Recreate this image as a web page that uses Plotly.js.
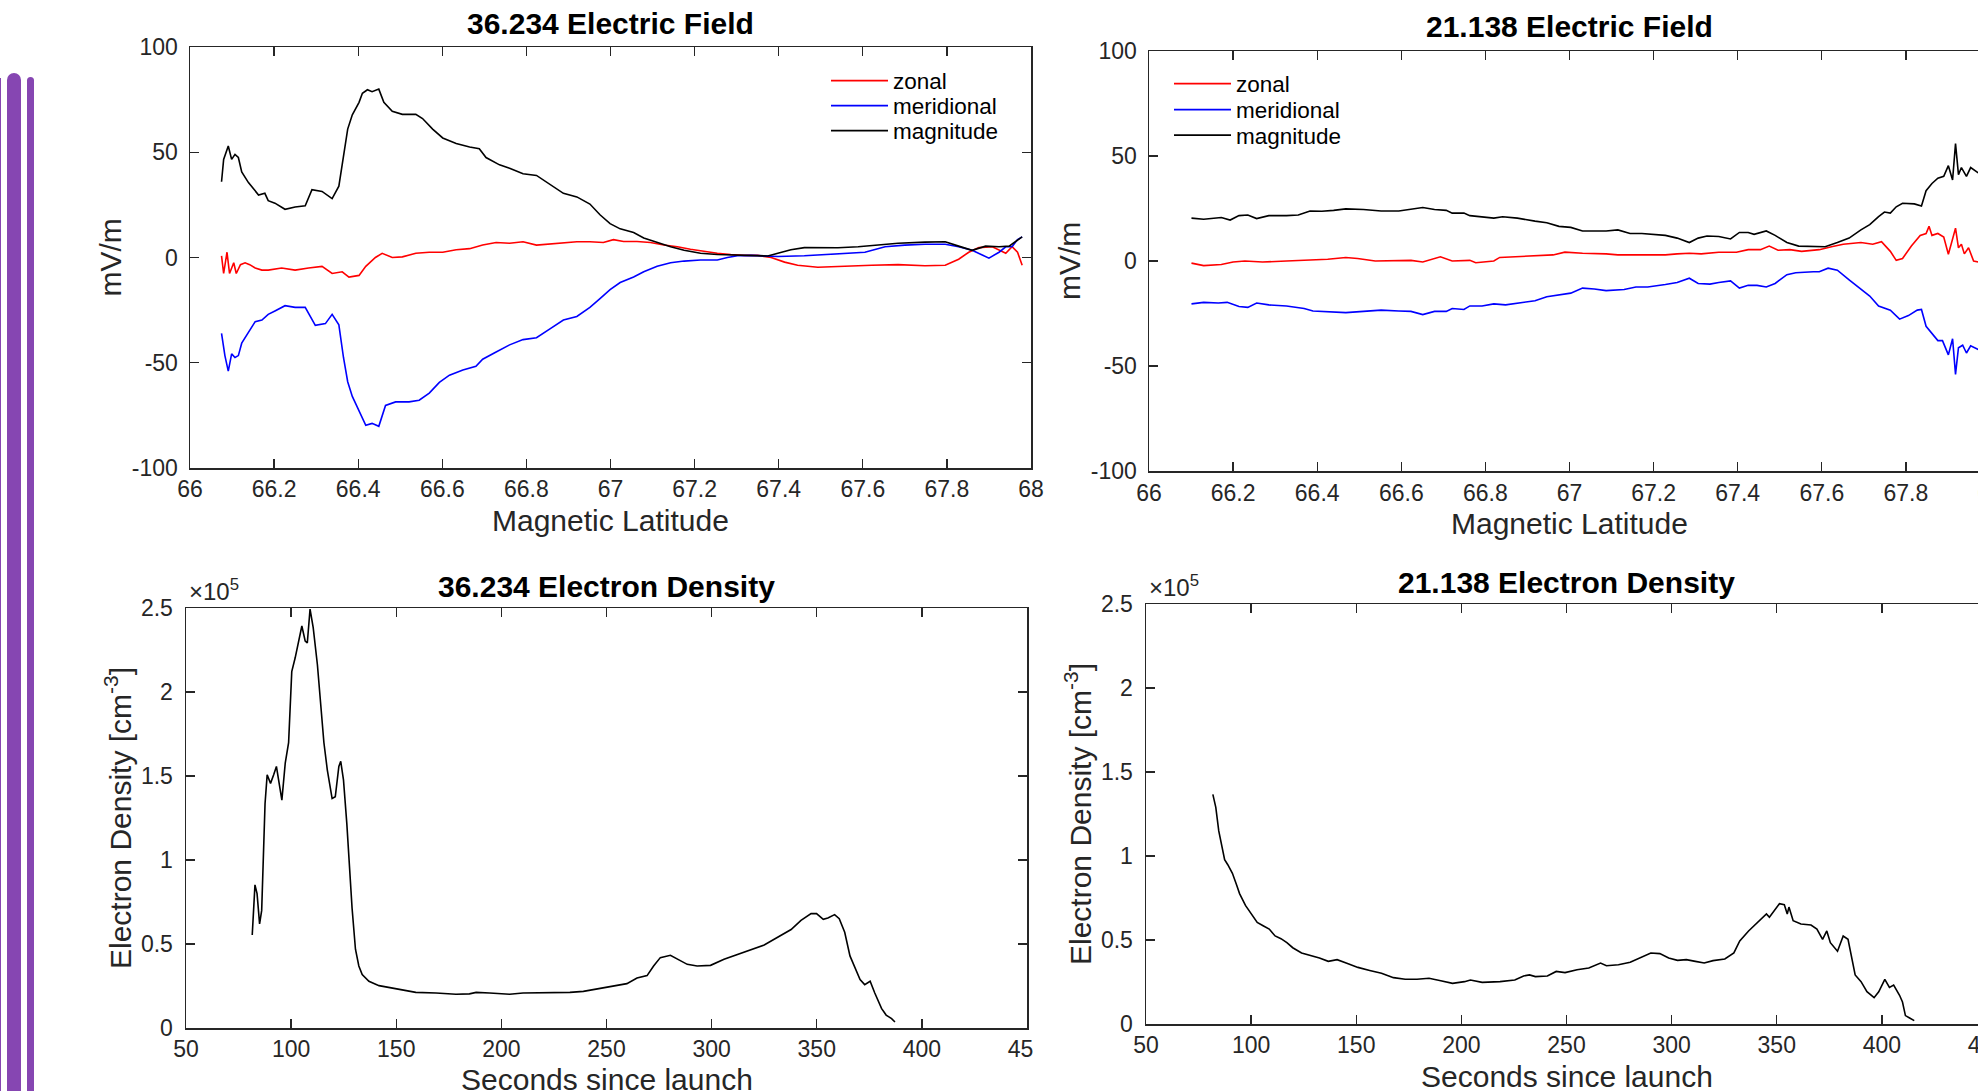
<!DOCTYPE html>
<html><head><meta charset="utf-8">
<script src="https://cdn.plot.ly/plotly-3.0.1.min.js"></script>
<style>
html,body{margin:0;padding:0;background:#fff;overflow:hidden;width:1978px;height:1091px;}
#plot{position:absolute;left:0;top:0;width:2010px;height:1091px;}
.bar{position:absolute;background:#8646b2;bottom:0;}
#cut{position:absolute;left:1033px;top:1031px;width:70px;height:40px;background:#fff;}
</style></head><body>
<div id="plot"></div>
<div class="bar" style="left:7px;width:14px;top:73px;border-radius:7px 7px 0 0;"></div>
<div class="bar" style="left:27px;width:7px;top:77px;border-radius:4px 4px 0 0;"></div>
<div class="bar" style="left:0px;width:1px;top:78px;"></div>
<div id="cut"></div>
<script>
// ---------- tick labels ----------
const latTicks = [66,66.2,66.4,66.6,66.8,67,67.2,67.4,67.6,67.8,68];
const latTickText = ['66','66.2','66.4','66.6','66.8','67','67.2','67.4','67.6','67.8','68'];
const efTicks = [-100,-50,0,50,100];
const efTickText = ['-100','-50','0','50','100'];
const timeTicks = [50,100,150,200,250,300,350,400,450];
const timeTickText = ['50','100','150','200','250','300','350','400','450'];
const densTicks = [0,0.5,1,1.5,2,2.5];
const densTickText = ['0','0.5','1','1.5','2','2.5'];
const seriesNames = ['zonal','meridional','magnitude'];

// ---------- 36.234 Electric Field (mV/m vs magnetic latitude) ----------
const ef36ZonalLat = [66.075,66.080,66.088,66.094,66.104,66.110,66.120,66.131,66.142,66.155,66.171,66.186,66.218,66.250,66.282,66.314,66.338,66.362,66.378,66.402,66.418,66.441,66.457,66.481,66.505,66.537,66.569,66.601,66.633,66.665,66.696,66.728,66.760,66.792,66.824,66.856,66.888,66.920,66.951,66.983,67.007,67.031,67.063,67.095,67.127,67.159,67.190,67.222,67.254,67.286,67.318,67.350,67.382,67.414,67.445,67.493,67.557,67.621,67.684,67.748,67.796,67.828,67.852,67.876,67.908,67.940,67.955,67.968,67.979];
const ef36Zonal = [0.8,-7.6,2.5,-7.6,-2.5,-7.6,-3.4,-2.5,-3.4,-5,-6,-6,-5,-6,-5,-4.2,-7.6,-6.8,-9.3,-8.5,-4.2,0,2,0,0.3,2,2.5,2.5,3.7,4.2,5.9,7.1,6.8,7.5,5.9,6.4,6.8,7.5,7.5,7.1,8.5,7.6,7.6,7.1,5.9,5.1,3.9,2.9,2,1.4,1,1,0,-2.2,-3.7,-4.6,-4,-3.7,-3.4,-3.9,-3.7,-0.8,2.5,4.7,5.1,2,5.1,2.5,-3.7];

const ef36MeridLat = [66.075,66.083,66.091,66.099,66.107,66.115,66.123,66.139,66.155,66.171,66.186,66.202,66.226,66.250,66.274,66.298,66.322,66.338,66.354,66.365,66.375,66.386,66.402,66.418,66.433,66.449,66.465,66.489,66.521,66.545,66.569,66.593,66.617,66.649,66.680,66.696,66.728,66.760,66.792,66.824,66.856,66.888,66.920,66.951,66.975,66.999,67.023,67.055,67.079,67.111,67.143,67.175,67.214,67.254,67.278,67.302,67.334,67.374,67.398,67.461,67.509,67.557,67.605,67.653,67.700,67.748,67.796,67.828,67.860,67.884,67.900,67.924,67.940,67.955,67.968,67.979];
const ef36Merid = [-36,-46.6,-54,-45.8,-47.5,-46.6,-40.7,-35.6,-30.5,-29.7,-27,-25.4,-22.9,-23.7,-23.7,-32.2,-31.4,-27,-32,-47.5,-59,-66,-72.9,-79.7,-78.8,-80.2,-70.3,-68.6,-68.6,-67.8,-64.4,-59.3,-55.9,-53.4,-51.7,-48.3,-44.9,-41.5,-39,-38.1,-33.9,-29.7,-28,-23.7,-19.5,-15.3,-11.9,-9.3,-6.8,-4.2,-2.5,-1.7,-1.2,-1.2,0,0.8,1,0.7,0.5,0.8,1.4,2,2.5,5.1,5.9,6.3,6.3,5.1,3.4,1.2,-0.3,2.5,5.1,5.1,8.5,9.8];

const ef36MagLat = [66.075,66.080,66.091,66.099,66.107,66.115,66.123,66.139,66.163,66.178,66.186,66.202,66.226,66.250,66.274,66.290,66.314,66.338,66.354,66.365,66.375,66.386,66.402,66.410,66.422,66.433,66.449,66.461,66.481,66.505,66.537,66.553,66.577,66.601,66.633,66.665,66.688,66.704,66.736,66.760,66.792,66.824,66.856,66.888,66.920,66.951,66.975,66.999,67.023,67.055,67.079,67.111,67.143,67.175,67.214,67.254,67.286,67.334,67.374,67.398,67.429,67.461,67.493,67.541,67.589,67.637,67.684,67.748,67.796,67.828,67.860,67.892,67.924,67.948,67.963,67.979];
const ef36Mag = [36,46.6,53,46.6,49,47.5,40.7,35.6,29.7,30.5,27,25.8,22.9,24,24.6,32.2,31.4,28,33.9,49,61,67.8,73.7,78,79.7,78.8,80,73.7,69.5,68,68,66,61,56.8,54.2,52.5,51.7,47.5,44,42.4,39.8,39,34.7,30.5,28.8,25.4,20.3,16.1,13.6,11.9,9.3,7.1,5.1,3.4,2,1.4,1.2,1.2,0.7,2,3.7,4.7,4.7,4.6,5.1,5.9,6.8,7.3,7.5,5.4,3.4,5.4,5.1,5.4,7.6,9.8];

// ---------- 21.138 Electric Field ----------
const ef21ZonalLat = [66.101,66.130,66.172,66.200,66.228,66.270,66.327,66.383,66.425,66.468,66.496,66.538,66.580,66.623,66.651,66.693,66.721,66.763,66.777,66.820,66.834,66.876,66.918,66.961,66.989,67.031,67.087,67.115,67.172,67.228,67.256,67.285,67.313,67.355,67.397,67.425,67.454,67.475,67.496,67.524,67.552,67.594,67.623,67.651,67.693,67.721,67.742,67.763,67.777,67.792,67.813,67.834,67.848,67.855,67.862,67.876,67.890,67.901,67.911,67.918,67.925,67.932,67.939,67.949,67.961,67.972];
const ef21Zonal = [-1,-2.2,-1.7,-0.5,0,-0.5,0,0.3,0.8,1.7,1.2,0,0.3,0.3,-0.5,2,0,0.3,-0.8,0,1.7,2,2.4,2.9,4.2,3.7,3.4,2.9,2.9,2.9,3.4,3.7,3.4,4.2,4.2,5.4,5.4,7.1,5.1,5.4,4.6,5.4,6.8,8,8.8,8,9.2,4.6,0.3,1.2,7.1,12.2,13.1,16.5,12.2,13.1,11.4,3.2,10.5,15.6,6.3,8,3.4,6.3,0,-0.5];

const ef21MeridLat = [66.101,66.130,66.165,66.186,66.214,66.235,66.256,66.285,66.327,66.369,66.390,66.425,66.468,66.510,66.552,66.594,66.623,66.651,66.679,66.707,66.721,66.749,66.763,66.792,66.820,66.848,66.876,66.918,66.946,66.975,67.003,67.031,67.059,67.087,67.130,67.158,67.186,67.228,67.256,67.285,67.306,67.334,67.355,67.383,67.404,67.425,67.446,67.468,67.489,67.517,67.538,67.580,67.594,67.615,67.637,67.665,67.693,67.714,67.735,67.763,67.785,67.806,67.827,67.837,67.848,67.862,67.876,67.887,67.901,67.911,67.918,67.925,67.935,67.944,67.954,67.972];
const ef21Merid = [-20.4,-19.7,-20,-19.7,-21.7,-22.1,-20,-20.9,-21.4,-22.6,-23.8,-24,-24.6,-24,-23.4,-23.8,-24,-25.5,-24,-24,-22.6,-23.1,-21.4,-21.4,-20.4,-20.9,-20,-18.9,-17,-16.1,-15.3,-12.9,-13.3,-14.1,-13.6,-12.4,-12.4,-11.2,-10.2,-8.2,-10.7,-11,-10.2,-9.5,-12.9,-11.6,-11.6,-12.4,-10.7,-6.5,-5.6,-5.1,-5.1,-3.4,-4.4,-9,-13.3,-16.7,-21.4,-23.4,-27.7,-26,-23.4,-23.1,-31.1,-34.5,-37.9,-37.9,-44.7,-37,-54,-41.3,-40.1,-43.8,-40.4,-42.1];

const ef21MagLat = [66.101,66.130,66.172,66.193,66.214,66.235,66.256,66.285,66.327,66.355,66.383,66.411,66.439,66.468,66.510,66.552,66.594,66.623,66.651,66.679,66.707,66.721,66.749,66.763,66.792,66.820,66.841,66.876,66.918,66.946,66.975,67.003,67.031,67.059,67.087,67.115,67.144,67.172,67.200,67.228,67.256,67.285,67.306,67.327,67.355,67.383,67.404,67.425,67.439,67.468,67.489,67.517,67.545,67.580,67.608,67.637,67.665,67.693,67.714,67.735,67.749,67.763,67.777,67.792,67.820,67.837,67.848,67.862,67.876,67.890,67.901,67.911,67.918,67.925,67.932,67.944,67.954,67.972];
const ef21Mag = [20.4,19.9,20.7,19.5,21.6,21.9,20.2,21.6,21.6,21.9,23.8,23.7,24.1,24.8,24.5,23.8,23.8,24.5,25.5,24.5,24.1,22.8,22.8,21.6,21.1,20.4,21.1,20.4,19,18.2,16.5,16,14.3,14.3,14.3,14.8,13.1,13.1,12.6,12.2,10.9,8.8,10.9,11.9,11.7,10.5,13.6,13.6,12.7,14.3,12.2,8.8,7.1,7.1,6.8,8.8,10.9,14.8,17.3,21.1,23.3,22.8,25.8,27.5,27.2,26.2,33.5,36.9,39.4,40.3,45.4,38.6,55.9,41.1,44.5,40.3,44.5,42];

// ---------- Electron density (units of 1e5 cm^-3) vs seconds since launch ----------
const ne36Time = [81.5,82.8,83.8,85,86,87.6,88.6,90.2,91.7,93,95.6,97.2,98.8,100.3,101.9,103.5,105.1,106.7,107.7,109,110.5,112.5,114,115.6,117.2,119.5,121,122.7,123.6,124.9,126.5,127.4,129,130.6,132.2,133.8,137,141.8,146.6,152.9,159.3,168.9,178.4,184.8,188,194.4,203.9,210.3,223,232.6,239,245.3,251.7,259.7,264.5,269.3,272.4,275.6,280.4,283.6,288.4,293.1,299.5,305.9,312.3,318.6,325,331.4,337.8,342.5,347.3,349.9,353.1,355.3,358.5,360.7,363.3,365.8,368,370.6,372.8,375.4,377.6,380.8,383,385.6,387.2];
const ne36 = [0.554,0.852,0.80,0.62,0.70,1.336,1.507,1.456,1.507,1.557,1.356,1.577,1.698,2.121,2.202,2.303,2.393,2.303,2.292,2.494,2.383,2.162,1.94,1.698,1.537,1.366,1.376,1.557,1.587,1.477,1.215,1.013,0.711,0.469,0.369,0.318,0.278,0.252,0.242,0.228,0.212,0.208,0.201,0.203,0.212,0.208,0.201,0.208,0.208,0.212,0.218,0.232,0.244,0.264,0.298,0.312,0.369,0.419,0.433,0.413,0.379,0.369,0.373,0.409,0.439,0.465,0.494,0.54,0.586,0.641,0.681,0.681,0.647,0.655,0.675,0.651,0.57,0.429,0.369,0.288,0.258,0.278,0.208,0.117,0.077,0.056,0.036];

const ne21Time = [81.8,83.2,84.6,86,87.4,88.9,91.1,93.1,94.5,97.3,100.1,102.9,105.7,108.6,111.4,114.2,117,119.8,124,128.3,132.5,136.7,140.9,145.2,150.8,156.4,162,167.7,173.3,178.9,184.6,190.2,195.8,201.5,204.3,209.9,218.4,225.4,229.6,232.4,235.2,240.9,245.1,249.3,255,260.6,264.8,266.2,269,274.7,280.3,285.9,290.1,294.4,298.6,302.8,307,311.3,315.5,319.7,325.3,329.6,332.4,336.6,340.8,345.1,346.5,349.4,351.3,353.6,355,355.8,357.8,361.5,366.3,369.1,371.8,373.8,375.5,378.9,381.6,383.9,387.3,390.1,392.9,396.3,398.5,401.4,403.6,405.6,408.4,409.8,411.2,413.2,415.4];
const ne21 = [1.367,1.29,1.149,1.069,0.978,0.948,0.897,0.827,0.776,0.706,0.655,0.605,0.585,0.565,0.524,0.508,0.484,0.454,0.423,0.409,0.393,0.373,0.383,0.363,0.337,0.319,0.302,0.276,0.266,0.266,0.272,0.258,0.242,0.252,0.262,0.248,0.252,0.262,0.286,0.292,0.282,0.286,0.313,0.306,0.323,0.333,0.353,0.363,0.347,0.353,0.367,0.399,0.423,0.419,0.393,0.379,0.383,0.373,0.363,0.377,0.387,0.423,0.494,0.554,0.605,0.655,0.635,0.685,0.716,0.71,0.655,0.696,0.615,0.595,0.589,0.565,0.504,0.554,0.484,0.433,0.524,0.504,0.292,0.252,0.192,0.157,0.192,0.266,0.218,0.232,0.171,0.131,0.05,0.036,0.02];

// ---------- layout helpers ----------
const W = 2010, H = 1091;
const F = '"Liberation Sans", Arial, Helvetica, sans-serif';
const INK = '#262626';
const px = v => v / W;
const py = v => 1 - v / H;

function axisStyle(extra) {
  return Object.assign({
    showline: true, linecolor: INK, linewidth: 1.5, mirror: 'ticks',
    ticks: 'inside', ticklen: 9, tickwidth: 1.3, tickcolor: INK,
    showgrid: false, zeroline: false, fixedrange: true,
    tickfont: {family: F, size: 23, color: INK}
  }, extra);
}

const colors = ['#ff0000', '#0000ff', '#000000'];
const traces = [];
function efTraces(lats, vals, xa, ya, legends) {
  for (let i = 0; i < 3; i++) {
    traces.push({type: 'scatter', mode: 'lines', x: lats[i], y: vals[i], xaxis: xa, yaxis: ya,
      name: seriesNames[i], legend: legends[i], line: {color: colors[i], width: 1.6}});
  }
}
efTraces([ef36ZonalLat, ef36MeridLat, ef36MagLat], [ef36Zonal, ef36Merid, ef36Mag], 'x', 'y', ['legend', 'legend2', 'legend3']);
efTraces([ef21ZonalLat, ef21MeridLat, ef21MagLat], [ef21Zonal, ef21Merid, ef21Mag], 'x2', 'y2', ['legend4', 'legend5', 'legend6']);
traces.push({type: 'scatter', mode: 'lines', x: ne36Time, y: ne36, xaxis: 'x3', yaxis: 'y3', showlegend: false, line: {color: '#000', width: 1.6}});
traces.push({type: 'scatter', mode: 'lines', x: ne21Time, y: ne21, xaxis: 'x4', yaxis: 'y4', showlegend: false, line: {color: '#000', width: 1.6}});

// subplot boxes in page pixels: [left, top, right, bottom]
const boxes = [[190, 47, 1031, 468], [1149, 51, 1990, 471], [186, 608, 1027, 1028], [1146, 604, 1987, 1024]];
const dom = b => ({x: [px(b[0]), px(b[2])], y: [py(b[3]), py(b[1])]});

function legendAt(xpx, ypx) {
  return {x: px(xpx), y: py(ypx), xanchor: 'left', yanchor: 'middle', bgcolor: 'rgba(0,0,0,0)',
    borderwidth: 0, itemwidth: 57, font: {family: F, size: 22.5, color: '#000'}, itemclick: false, itemdoubleclick: false};
}

const titleFont = {family: F, size: 30, color: '#000', weight: 'bold'};
const labFont = {family: F, size: 30, color: INK};
function ann(text, x, y, font, extra) {
  return Object.assign({text: text, x: px(x), y: py(y), xref: 'paper', yref: 'paper', showarrow: false,
    xanchor: 'center', yanchor: 'middle', font: font}, extra || {});
}

const d = boxes.map(dom);
const layout = {
  width: W, height: H, margin: {l: 0, r: 0, t: 0, b: 0},
  paper_bgcolor: '#fff', plot_bgcolor: '#fff', showlegend: true,
  xaxis: axisStyle({domain: d[0].x, anchor: 'y', range: [66, 68], tickvals: latTicks, ticktext: latTickText, ticklabelstandoff: 0}),
  yaxis: axisStyle({domain: d[0].y, anchor: 'x', range: [-100, 100], tickvals: efTicks, ticktext: efTickText, ticklabelstandoff: 6}),
  xaxis2: axisStyle({domain: d[1].x, anchor: 'y2', range: [66, 68], tickvals: latTicks, ticktext: latTickText, ticklabelstandoff: 1}),
  yaxis2: axisStyle({domain: d[1].y, anchor: 'x2', range: [-100, 100], tickvals: efTicks, ticktext: efTickText, ticklabelstandoff: 6}),
  xaxis3: axisStyle({domain: d[2].x, anchor: 'y3', range: [50, 450], tickvals: timeTicks, ticktext: timeTickText, ticklabelstandoff: 0}),
  yaxis3: axisStyle({domain: d[2].y, anchor: 'x3', range: [0, 2.5], tickvals: densTicks, ticktext: densTickText, ticklabelstandoff: 7}),
  xaxis4: axisStyle({domain: d[3].x, anchor: 'y4', range: [50, 450], tickvals: timeTicks, ticktext: timeTickText, ticklabelstandoff: 0}),
  yaxis4: axisStyle({domain: d[3].y, anchor: 'x4', range: [0, 2.5], tickvals: densTicks, ticktext: densTickText, ticklabelstandoff: 7}),
  legend: legendAt(826, 81), legend2: legendAt(826, 106), legend3: legendAt(826, 131),
  legend4: legendAt(1169, 84), legend5: legendAt(1169, 110), legend6: legendAt(1169, 135.5),
  annotations: [
    ann('36.234 Electric Field', 610.5, 24, titleFont),
    ann('21.138 Electric Field', 1569.5, 27, titleFont),
    ann('36.234 Electron Density', 606.5, 586, titleFont),
    ann('21.138 Electron Density', 1566.5, 582, titleFont),
    ann('Magnetic Latitude', 610.5, 520, labFont),
    ann('Magnetic Latitude', 1569.5, 523, labFont),
    ann('Seconds since launch', 606.5, 1079, labFont),
    ann('Seconds since launch', 1566.5, 1076, labFont),
    ann('mV/m', 110, 257.5, labFont, {textangle: -90}),
    ann('mV/m', 1069, 261, labFont, {textangle: -90}),
    ann('Electron Density [cm<sup>-3</sup>]', 118, 818, labFont, {textangle: -90}),
    ann('Electron Density [cm<sup>-3</sup>]', 1078, 814, labFont, {textangle: -90}),
    ann('\u00d710<sup>5</sup>', 187, 607, {family: F, size: 24, color: INK}, {xanchor: 'left', yanchor: 'bottom'}),
    ann('\u00d710<sup>5</sup>', 1147, 603, {family: F, size: 24, color: INK}, {xanchor: 'left', yanchor: 'bottom'})
  ]
};

Plotly.newPlot('plot', traces, layout, {staticPlot: true, displayModeBar: false});
</script></body></html>
